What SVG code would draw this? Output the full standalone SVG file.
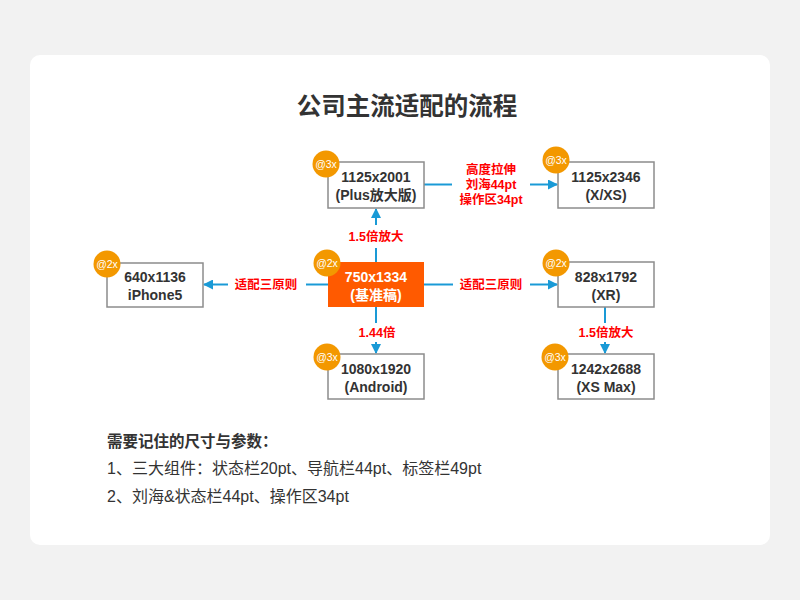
<svg xmlns="http://www.w3.org/2000/svg" width="800" height="600" viewBox="0 0 800 600">
<defs>
<style>
.box{fill:#fff;stroke:#8c8c8c;stroke-width:1.5}
.main{fill:#ff5a00;stroke:none}
.badge{fill:#f39800}
.bt{font-family:"Liberation Sans","Noto Sans CJK SC",sans-serif;font-size:10.5px;fill:#fff;text-anchor:middle}
.nt{font-family:"Liberation Sans","Noto Sans CJK SC",sans-serif;font-size:14px;font-weight:bold;fill:#333;text-anchor:middle}
.wt{fill:#fff}
.lbl{font-family:"Liberation Sans","Noto Sans CJK SC",sans-serif;font-size:12.5px;font-weight:bold;fill:#ff0000;text-anchor:middle}
.ln{stroke:#1a9ad6;stroke-width:2;fill:none}
.txt{font-family:"Liberation Sans","Noto Sans CJK SC",sans-serif;fill:#333}
</style>
<marker id="ah" viewBox="0 0 10 10" refX="9" refY="5" markerWidth="5" markerHeight="5" orient="auto" markerUnits="strokeWidth">
<path d="M0,0 L10,5 L0,10 z" fill="#1a9ad6"/>
</marker>
</defs>
<rect x="0" y="0" width="800" height="600" fill="#f2f2f2"/>
<rect x="30" y="55" width="740" height="490" rx="10" fill="#fff"/>
<text x="407" y="115" class="txt" font-size="24.5" font-weight="bold" text-anchor="middle">公司主流适配的流程</text>

<g id="connectors">
<line class="ln" x1="376" y1="262" x2="376" y2="248"/>
<line class="ln" x1="376" y1="225" x2="376" y2="209" marker-end="url(#ah)"/>
<line class="ln" x1="328" y1="284.5" x2="306" y2="284.5"/>
<line class="ln" x1="228" y1="284.5" x2="204" y2="284.5" marker-end="url(#ah)"/>
<line class="ln" x1="424" y1="284.5" x2="453" y2="284.5"/>
<line class="ln" x1="530" y1="284.5" x2="557" y2="284.5" marker-end="url(#ah)"/>
<line class="ln" x1="376" y1="307" x2="376" y2="323"/>
<line class="ln" x1="376" y1="342" x2="376" y2="353" marker-end="url(#ah)"/>
<line class="ln" x1="424" y1="184.5" x2="452" y2="184.5"/>
<line class="ln" x1="530" y1="184.5" x2="557" y2="184.5" marker-end="url(#ah)"/>
<line class="ln" x1="605" y1="307" x2="605" y2="323"/>
<line class="ln" x1="605" y1="342" x2="605" y2="353" marker-end="url(#ah)"/>
<text class="lbl" x="376" y="241">1.5倍放大</text>
<text class="lbl" x="266" y="289">适配三原则</text>
<text class="lbl" x="491" y="289">适配三原则</text>
<text class="lbl" x="377" y="337">1.44倍</text>
<text class="lbl" x="606" y="337">1.5倍放大</text>
<text class="lbl" x="491" y="174">高度拉伸</text>
<text class="lbl" x="491" y="189">刘海44pt</text>
<text class="lbl" x="491" y="204">操作区34pt</text>
</g>

<g id="n1125x2001">
<rect class="box" x="328" y="162" width="96" height="46"/>
<text class="nt" x="376" y="182">1125x2001</text>
<text class="nt" x="376" y="200">(Plus放大版)</text>
<circle class="badge" cx="326" cy="164" r="13.5"/>
<text class="bt" x="326" y="168">@3x</text>
</g>
<g id="n1125x2346">
<rect class="box" x="558" y="162" width="96" height="46"/>
<text class="nt" x="606" y="182">1125x2346</text>
<text class="nt" x="606" y="200">(X/XS)</text>
<circle class="badge" cx="556" cy="160" r="13.5"/>
<text class="bt" x="556" y="164">@3x</text>
</g>
<g id="n640x1136">
<rect class="box" x="107" y="263" width="96" height="44"/>
<text class="nt" x="155" y="282">640x1136</text>
<text class="nt" x="155" y="300">iPhone5</text>
<circle class="badge" cx="107" cy="264" r="13.5"/>
<text class="bt" x="107" y="268">@2x</text>
</g>
<g id="n750x1334">
<rect class="main" x="328" y="262" width="96" height="45"/>
<text class="nt wt" x="376" y="282">750x1334</text>
<text class="nt wt" x="376" y="300">(基准稿)</text>
<circle class="badge" cx="327" cy="263" r="13.5"/>
<text class="bt" x="327" y="267">@2x</text>
</g>
<g id="n828x1792">
<rect class="box" x="558" y="262" width="96" height="45"/>
<text class="nt" x="606" y="282">828x1792</text>
<text class="nt" x="606" y="300">(XR)</text>
<circle class="badge" cx="556" cy="263" r="13.5"/>
<text class="bt" x="556" y="267">@2x</text>
</g>
<g id="n1080x1920">
<rect class="box" x="328" y="354" width="96" height="45"/>
<text class="nt" x="376" y="374">1080x1920</text>
<text class="nt" x="376" y="392">(Android)</text>
<circle class="badge" cx="327" cy="357" r="13.5"/>
<text class="bt" x="327" y="361">@3x</text>
</g>
<g id="n1242x2688">
<rect class="box" x="558" y="354" width="96" height="45"/>
<text class="nt" x="606" y="374">1242x2688</text>
<text class="nt" x="606" y="392">(XS Max)</text>
<circle class="badge" cx="555" cy="357" r="13.5"/>
<text class="bt" x="555" y="361">@3x</text>
</g>

<text class="txt" x="107" y="447" font-size="15.5" font-weight="bold">需要记住的尺寸与参数：</text>
<text class="txt" x="107" y="474" font-size="16">1、三大组件：状态栏20pt、导航栏44pt、标签栏49pt</text>
<text class="txt" x="107" y="502" font-size="16">2、刘海&amp;状态栏44pt、操作区34pt</text>
</svg>
